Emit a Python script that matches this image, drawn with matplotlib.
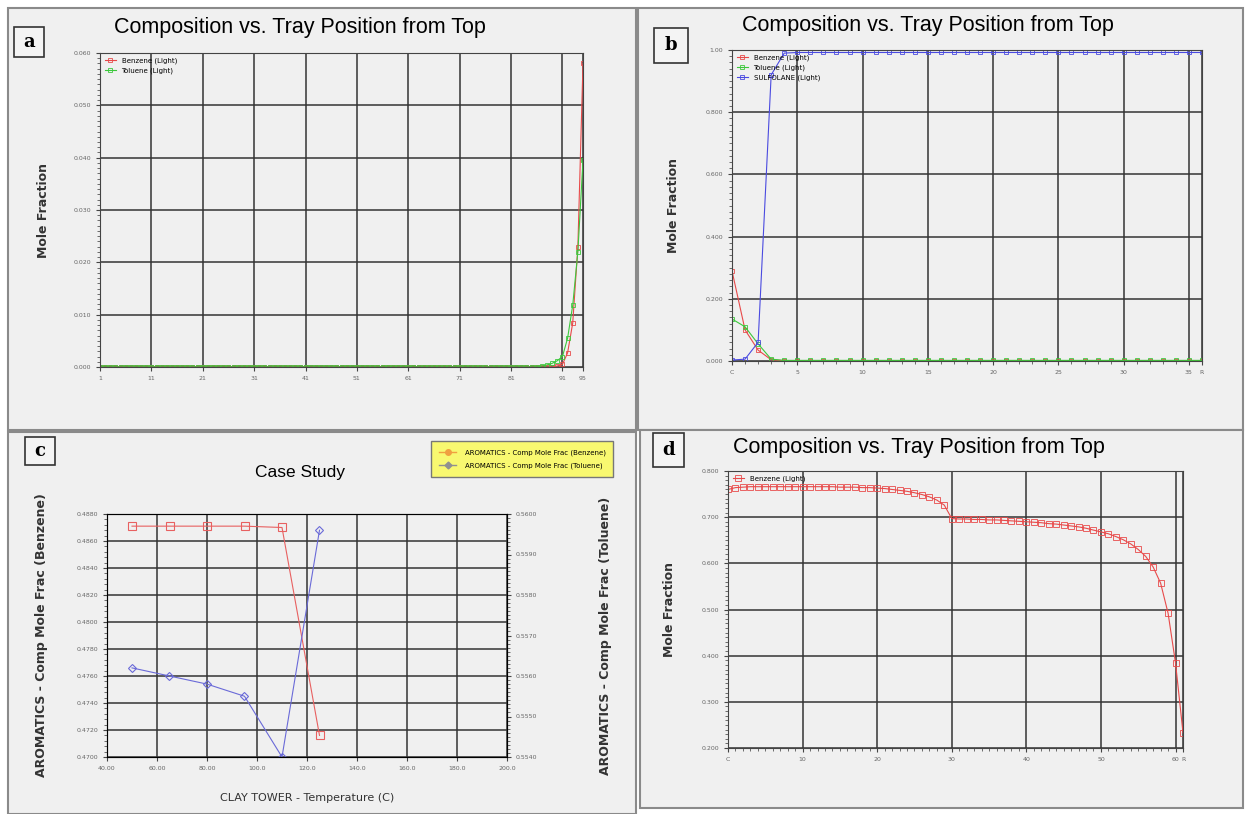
import matplotlib
matplotlib.use("Agg")
import matplotlib.pyplot as plt
import matplotlib.patches as patches
from matplotlib.lines import Line2D
from matplotlib.ticker import MultipleLocator

W, H = 1249, 814

# ---- panel a : trays 1..95 ----
trays_a = list(range(1, 96))
benzene_a = [0.0, 0.0, 0.0, 0.0, 0.0, 0.0, 0.0, 0.0, 0.0, 0.0,
             0.0, 0.0, 0.0, 0.0, 0.0, 0.0, 0.0, 0.0, 0.0, 0.0,
             0.0, 0.0, 0.0, 0.0, 0.0, 0.0, 0.0, 0.0, 0.0, 0.0,
             0.0, 0.0, 0.0, 0.0, 0.0, 0.0, 0.0, 0.0, 0.0, 0.0,
             0.0, 0.0, 0.0, 0.0, 0.0, 0.0, 0.0, 0.0, 0.0, 0.0,
             0.0, 0.0, 0.0, 0.0, 0.0, 0.0, 0.0, 0.0, 0.0, 0.0,
             0.0, 0.0, 0.0, 0.0, 0.0, 0.0, 0.0, 0.0, 0.0, 0.0,
             0.0, 0.0, 0.0, 0.0, 0.0, 0.0, 0.0, 0.0, 0.0, 0.0,
             0.0, 0.0, 0.0, 0.0, 0.0, 0.0, 0.0, 0.0, 0.0, 0.0002,
             0.0005, 0.0027, 0.0084, 0.0229, 0.0580]
toluene_a = [0.0, 0.0, 0.0, 0.0, 0.0, 0.0, 0.0, 0.0, 0.0, 0.0,
             0.0, 0.0, 0.0, 0.0, 0.0, 0.0, 0.0, 0.0, 0.0, 0.0,
             0.0, 0.0, 0.0, 0.0, 0.0, 0.0, 0.0, 0.0, 0.0, 0.0,
             0.0, 0.0, 0.0, 0.0, 0.0, 0.0, 0.0, 0.0, 0.0, 0.0,
             0.0, 0.0, 0.0, 0.0, 0.0, 0.0, 0.0, 0.0, 0.0, 0.0,
             0.0, 0.0, 0.0, 0.0, 0.0, 0.0, 0.0, 0.0, 0.0, 0.0,
             0.0, 0.0, 0.0, 0.0, 0.0, 0.0, 0.0, 0.0, 0.0, 0.0,
             0.0, 0.0, 0.0, 0.0, 0.0, 0.0, 0.0, 0.0, 0.0, 0.0,
             0.0, 0.0, 0.0, 0.0, 0.0, 0.0, 0.0002, 0.0004, 0.0007, 0.0012,
             0.0020, 0.0055, 0.0118, 0.0220, 0.0395]
xticks_a = [1, 11, 21, 31, 41, 51, 61, 71, 81, 91, 95]

# ---- panel b : C(0) .. R(36) ----
trays_b = list(range(0, 37))
benzene_b = [0.290, 0.100, 0.035, 0.004, 0.001, 0.001, 0.001, 0.001, 0.001, 0.001,
             0.001, 0.001, 0.001, 0.001, 0.001, 0.001, 0.001, 0.001, 0.001, 0.001,
             0.001, 0.001, 0.001, 0.001, 0.001, 0.001, 0.001, 0.001, 0.001, 0.001,
             0.001, 0.001, 0.001, 0.001, 0.001, 0.001, 0.001]
toluene_b = [0.135, 0.110, 0.055, 0.006, 0.002, 0.002, 0.002, 0.002, 0.002, 0.002,
             0.002, 0.002, 0.002, 0.002, 0.002, 0.002, 0.002, 0.002, 0.002, 0.002,
             0.002, 0.002, 0.002, 0.002, 0.002, 0.002, 0.002, 0.002, 0.002, 0.002,
             0.002, 0.002, 0.002, 0.002, 0.002, 0.002, 0.002]
sulfolane_b = [0.003, 0.006, 0.060, 0.920, 0.990, 0.992, 0.992, 0.992, 0.992, 0.992,
               0.992, 0.992, 0.992, 0.992, 0.992, 0.992, 0.992, 0.992, 0.992, 0.992,
               0.992, 0.992, 0.992, 0.992, 0.992, 0.992, 0.992, 0.992, 0.992, 0.992,
               0.992, 0.992, 0.992, 0.992, 0.992, 0.992, 0.992]
xticks_b = [0, 5, 10, 15, 20, 25, 30, 35, 36]
xlabels_b = ["C", "5", "10", "15", "20", "25", "30", "35", "R"]

# ---- panel c : case study ----
temp_c = [50, 65, 80, 95, 110, 125]
benzene_c = [0.4871, 0.4871, 0.4871, 0.4871, 0.4870, 0.4716]
toluene_c = [0.5562, 0.5560, 0.5558, 0.5555, 0.5540, 0.5596]

# ---- panel d : C(0) .. R(61) ----
trays_d = list(range(0, 62))
benzene_d = [0.760, 0.764, 0.765, 0.766, 0.766, 0.766, 0.766, 0.766, 0.766, 0.766,
             0.766, 0.766, 0.766, 0.766, 0.766, 0.765, 0.765, 0.765, 0.764, 0.764,
             0.763, 0.762, 0.760, 0.758, 0.756, 0.753, 0.749, 0.744, 0.737, 0.726,
             0.697, 0.696, 0.696, 0.695, 0.695, 0.694, 0.694, 0.693, 0.692, 0.691,
             0.690, 0.689, 0.688, 0.686, 0.685, 0.683, 0.681, 0.679, 0.676, 0.672,
             0.668, 0.664, 0.658, 0.651, 0.642, 0.630, 0.615, 0.592, 0.557, 0.492,
             0.384, 0.233]
xticks_d = [0, 10, 20, 30, 40, 50, 60, 61]
xlabels_d = ["C", "10", "20", "30", "40", "50", "60", "R"]

TITLE_FONT = ["Liberation Sans Narrow", "Liberation Sans", "DejaVu Sans"]
BG = "#f0f0f0"
RED, GREEN, BLUE = "#e84a4a", "#3cc83c", "#4a4ae0"


def box(x, y, w, h):
    # axes rectangle from pixel coords (top-left origin)
    return [x / W, 1 - (y + h) / H, w / W, h / H]


def panel(fig, x0, y0, x1, y1, letter, lx, ly, lw, lh):
    r = patches.Rectangle((x0 / W, 1 - y1 / H), (x1 - x0) / W, (y1 - y0) / H,
                          transform=fig.transFigure, fc=BG, ec="#8a8a8a", lw=1.5, zorder=-5)
    fig.add_artist(r)
    b = patches.Rectangle((lx / W, 1 - (ly + lh) / H), lw / W, lh / H,
                          transform=fig.transFigure, fc="#f4f4f4", ec="#333333", lw=1.2, zorder=5)
    fig.add_artist(b)
    fig.text((lx + lw / 2) / W, 1 - (ly + lh / 2) / H, letter, ha="center", va="center",
             family="DejaVu Serif", weight="bold", fontsize=13, zorder=6)


def style(ax):
    ax.set_facecolor(BG)
    ax.grid(True, which="major", color="#333333", lw=1.1)
    for s in ax.spines.values():
        s.set_color("#444444")
    ax.tick_params(which="major", labelsize=4.5, labelcolor="#666666", length=3, color="#444444")
    ax.tick_params(which="minor", length=2, color="#555555")


fig = plt.figure(figsize=(W / 100, H / 100), dpi=100)

panel(fig, 8, 8, 636, 430, "a", 14, 27, 30, 30)
panel(fig, 638, 8, 1243, 430, "b", 654, 28, 34, 35)
panel(fig, 8, 432, 636, 814, "c", 25, 437, 30, 28)
panel(fig, 640, 430, 1243, 808, "d", 653, 433, 31, 34)

# a
ax = fig.add_axes(box(100, 53, 483, 314))
style(ax)
ax.plot(trays_a, benzene_a, color=RED, lw=0.8, marker="s", ms=3.5, mfc="none", mew=0.6, label="Benzene (Light)")
ax.plot(trays_a, toluene_a, color=GREEN, lw=0.8, marker="s", ms=3.5, mfc="none", mew=0.6, label="Toluene (Light)")
ax.set_xlim(1, 95)
ax.set_ylim(0, 0.06)
ax.set_xticks(xticks_a)
ax.set_yticks([0, 0.01, 0.02, 0.03, 0.04, 0.05, 0.06])
ax.set_yticklabels(["0.000", "0.010", "0.020", "0.030", "0.040", "0.050", "0.060"])
ax.yaxis.set_minor_locator(MultipleLocator(0.001))
ax.set_ylabel("Mole Fraction", fontsize=9, weight="bold", color="#333333", labelpad=17)
ax.legend(loc="upper left", frameon=False, fontsize=5, handlelength=1.6, borderaxespad=0.3)
fig.text(300 / W, 1 - 28 / H, "Composition vs. Tray Position from Top", ha="center", va="center",
         family=TITLE_FONT, fontsize=15.5)

# b
ax = fig.add_axes(box(732, 50, 470, 311))
style(ax)
ax.plot(trays_b, benzene_b, color=RED, lw=0.8, marker="s", ms=3.5, mfc="none", mew=0.6, label="Benzene (Light)")
ax.plot(trays_b, toluene_b, color=GREEN, lw=0.8, marker="s", ms=3.5, mfc="none", mew=0.6, label="Toluene (Light)")
ax.plot(trays_b, sulfolane_b, color=BLUE, lw=0.8, marker="s", ms=3.5, mfc="none", mew=0.6, label="SULFOLANE (Light)")
ax.set_xlim(0, 36)
ax.set_ylim(0, 1.0)
ax.set_xticks(xticks_b)
ax.set_xticklabels(xlabels_b)
ax.set_yticks([0, 0.2, 0.4, 0.6, 0.8, 1.0])
ax.set_yticklabels(["0.000", "0.200", "0.400", "0.600", "0.800", "1.00"])
ax.yaxis.set_minor_locator(MultipleLocator(0.02))
ax.xaxis.set_minor_locator(MultipleLocator(1))
ax.set_ylabel("Mole Fraction", fontsize=9, weight="bold", color="#333333", labelpad=18)
ax.legend(loc="upper left", frameon=False, fontsize=5, handlelength=1.6, borderaxespad=0.3)
fig.text(928 / W, 1 - 25 / H, "Composition vs. Tray Position from Top", ha="center", va="center",
         family=TITLE_FONT, fontsize=15.5)

# c
ax = fig.add_axes(box(107, 514, 400, 243))
style(ax)
ax.plot(temp_c, benzene_c, color="#e86060", lw=0.8, marker="s", ms=6, mfc="none", mew=0.8)
ax.set_xlim(40, 200)
ax.set_ylim(0.4700, 0.4880)
ax.set_xticks([40, 60, 80, 100, 120, 140, 160, 180, 200])
ax.set_xticklabels(["40.00", "60.00", "80.00", "100.0", "120.0", "140.0", "160.0", "180.0", "200.0"])
ax.set_yticks([0.4700 + 0.002 * i for i in range(10)])
ax.set_yticklabels(["%.4f" % (0.4700 + 0.002 * i) for i in range(10)])
ax.yaxis.set_minor_locator(MultipleLocator(0.0004))
ax.set_xlabel("CLAY TOWER - Temperature (C)", fontsize=8, color="#333333", labelpad=16)
ax.set_ylabel("AROMATICS - Comp Mole Frac (Benzene)", fontsize=9, weight="bold", color="#333333", labelpad=20)
ax2 = ax.twinx()
ax2.plot(temp_c, toluene_c, color="#6a6ad8", lw=0.8, marker="D", ms=4.5, mfc="none", mew=0.8)
ax2.set_ylim(0.5540, 0.5600)
ax2.set_yticks([0.5540 + 0.001 * i for i in range(7)])
ax2.set_yticklabels(["%.4f" % (0.5540 + 0.001 * i) for i in range(7)])
ax2.yaxis.set_minor_locator(MultipleLocator(0.0001))
ax2.tick_params(which="major", labelsize=4.5, labelcolor="#666666", length=3, color="#444444")
ax2.tick_params(which="minor", length=2, color="#555555")
ax2.set_ylabel("AROMATICS - Comp Mole Frac (Toluene)", fontsize=9, weight="bold", color="#333333", labelpad=44)
fig.text(300 / W, 1 - 473 / H, "Case Study", ha="center", va="center", family=TITLE_FONT, fontsize=12.5)
handles = [Line2D([], [], color="#f0a040", marker="o", ms=4, lw=1),
           Line2D([], [], color="#909090", marker="D", ms=3.5, lw=1)]
leg = fig.legend(handles, ["AROMATICS - Comp Mole Frac (Benzene)", "AROMATICS - Comp Mole Frac (Toluene)"],
                 loc="upper left", bbox_to_anchor=(428 / W, 1 - 438 / H), fontsize=5,
                 facecolor="#f8f870", edgecolor="#777777", framealpha=1, fancybox=False,
                 handlelength=2.5, borderpad=1.1, labelspacing=1.0, handletextpad=1.2)

# d
ax = fig.add_axes(box(728, 471, 455, 277))
style(ax)
ax.plot(trays_d, benzene_d, color=RED, lw=0.8, marker="s", ms=5, mfc="none", mew=0.6, label="Benzene (Light)")
ax.set_xlim(0, 61)
ax.set_ylim(0.2, 0.8)
ax.set_xticks(xticks_d)
ax.set_xticklabels(xlabels_d)
ax.set_yticks([0.2, 0.3, 0.4, 0.5, 0.6, 0.7, 0.8])
ax.set_yticklabels(["0.200", "0.300", "0.400", "0.500", "0.600", "0.700", "0.800"])
ax.yaxis.set_minor_locator(MultipleLocator(0.01))
ax.xaxis.set_minor_locator(MultipleLocator(1))
ax.set_ylabel("Mole Fraction", fontsize=9, weight="bold", color="#333333", labelpad=18)
ax.legend(loc="upper left", frameon=False, fontsize=5, handlelength=1.6, borderaxespad=0.3)
fig.text(919 / W, 1 - 448 / H, "Composition vs. Tray Position from Top", ha="center", va="center",
         family=TITLE_FONT, fontsize=15.5)

fig.savefig("out.png", dpi=100)
